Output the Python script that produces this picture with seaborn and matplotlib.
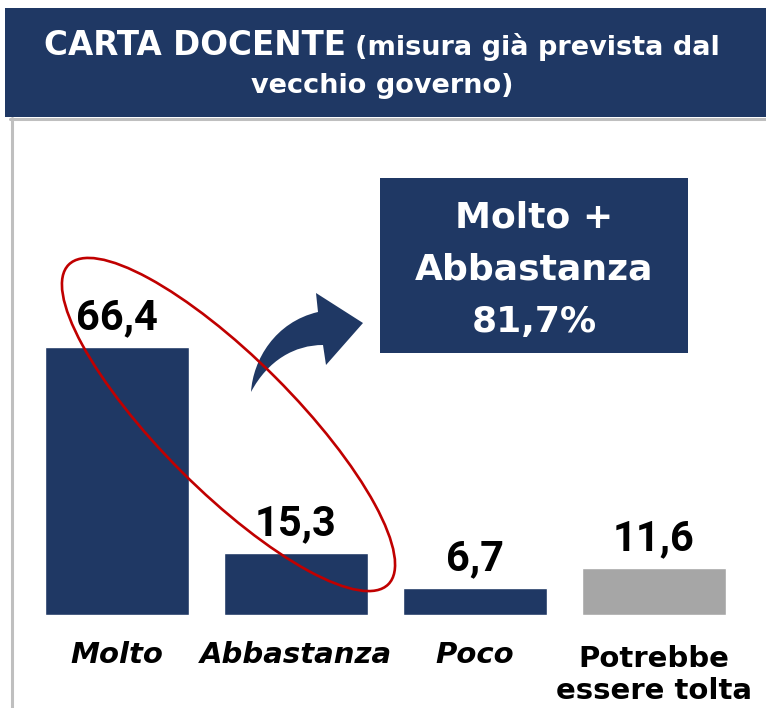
import matplotlib
matplotlib.use("Agg")
import matplotlib.pyplot as plt
import matplotlib.transforms as mtransforms
from matplotlib.patches import Ellipse, Rectangle, PathPatch
from matplotlib.path import Path
from matplotlib.lines import Line2D
import pandas as pd
import seaborn as sns

# ---- data -------------------------------------------------------------
categories = ["Molto", "Abbastanza", "Poco", "Potrebbe\nessere tolta"]
values = [66.4, 15.3, 6.7, 11.6]
value_labels = ["66,4", "15,3", "6,7", "11,6"]
bar_colors = ["#1F3864", "#1F3864", "#1F3864", "#A6A6A6"]
label_styles = ["italic", "italic", "italic", "normal"]

title_main = "CARTA DOCENTE"
title_note = "(misura già prevista dal"
title_line2 = "vecchio governo)"
callout_lines = ["Molto +", "Abbastanza", "81,7%"]

# ---- figure setup -----------------------------------------------------
W, H = 766, 708
NAVY = "#1F3864"
RED = "#C00000"
FRAME = "#BFBFBF"

sns.set_theme(style="white")
plt.rcParams["font.family"] = ["DejaVu Sans"]

fig = plt.figure(figsize=(W / 100, H / 100), dpi=100)
fig.patch.set_facecolor("white")
# pixel coordinates measured from the top-left corner
px = mtransforms.Affine2D().scale(1 / W, -1 / H).translate(0, 1) + fig.transFigure

# ---- bars -------------------------------------------------------------
base_y, top_y = 615, 118
px_per_unit = 4.04
ax = fig.add_axes([27.5 / W, (H - base_y) / H, 716 / W, (base_y - top_y) / H])
df = pd.DataFrame({"categoria": categories, "valore": values})
sns.barplot(data=df, x="categoria", y="valore", hue="categoria",
            palette=bar_colors, legend=False, width=0.8, saturation=1, ax=ax)
ax.set_xlim(-0.5, 3.5)
ax.set_ylim(0, (base_y - top_y) / px_per_unit)
ax.axis("off")

PT = 0.72  # points per pixel at 100 dpi

for i, (v, lab) in enumerate(zip(values, value_labels)):
    ax.annotate(lab, xy=(i, v), xytext=(0, 18 * PT), textcoords="offset points",
                ha="center", va="baseline", fontsize=30, fontweight="bold",
                family=["Roboto", "DejaVu Sans"], color="black",
                annotation_clip=False)

line_h = 36
for i, (cat, st) in enumerate(zip(categories, label_styles)):
    extra = (cat.count("\n")) * line_h
    ax.annotate(cat, xy=(i, 0), xytext=(0, -(48 + extra) * PT),
                textcoords="offset points", ha="center", va="baseline",
                fontsize=21, fontweight="bold", style=st, color="black",
                linespacing=1.18, annotation_clip=False)

# ---- frame and title banner -------------------------------------------
fig.add_artist(Line2D([11.5, 11.5], [118, H], transform=px, color=FRAME, lw=2.2))
fig.add_artist(Line2D([10, W], [119, 119], transform=px, color=FRAME, lw=2.2))
fig.add_artist(Rectangle((5, 8), W - 5, 109, transform=px, facecolor=NAVY,
                         edgecolor="none"))

t1 = fig.text(0, 0, title_main, transform=px, fontsize=23.5, fontweight="bold",
              color="white", va="baseline", ha="left")
t2 = fig.text(0, 0, title_note, transform=px, fontsize=19.5, fontweight="bold",
              color="white", va="baseline", ha="left")
fig.canvas.draw()
r = fig.canvas.get_renderer()
w1 = t1.get_window_extent(r).width
w2 = t2.get_window_extent(r).width
gap = 9
x0 = 382 - (w1 + gap + w2) / 2
t1.set_position((x0, 55))
t2.set_position((x0 + w1 + gap, 55))
fig.text(382, 93, title_line2, transform=px, fontsize=19.5, fontweight="bold",
         color="white", va="baseline", ha="center")

# ---- callout box -------------------------------------------------------
fig.add_artist(Rectangle((380, 178), 308, 175, transform=px, facecolor=NAVY,
                         edgecolor="none"))
for line, yb in zip(callout_lines, [227, 280, 332]):
    fig.text(534, yb, line, transform=px, fontsize=26, fontweight="bold",
             color="white", va="baseline", ha="center")

# ---- curved arrow ------------------------------------------------------
arrow_verts = [(251, 392), (253, 360), (275, 322), (318, 312),
               (316, 293), (363, 323), (326, 365), (323, 345),
               (295, 345), (268, 360), (251, 392), (251, 392)]
arrow_codes = [Path.MOVETO, Path.CURVE4, Path.CURVE4, Path.CURVE4,
               Path.LINETO, Path.LINETO, Path.LINETO, Path.LINETO,
               Path.CURVE4, Path.CURVE4, Path.CURVE4, Path.CLOSEPOLY]
fig.add_artist(PathPatch(Path(arrow_verts, arrow_codes), transform=px,
                         facecolor=NAVY, edgecolor="none"))

# ---- highlight ellipse -------------------------------------------------
fig.add_artist(Ellipse((228.5, 424.5), 452, 133, angle=45, transform=px,
                       fill=False, edgecolor=RED, lw=1.9))

fig.savefig("out.png", dpi=100)
